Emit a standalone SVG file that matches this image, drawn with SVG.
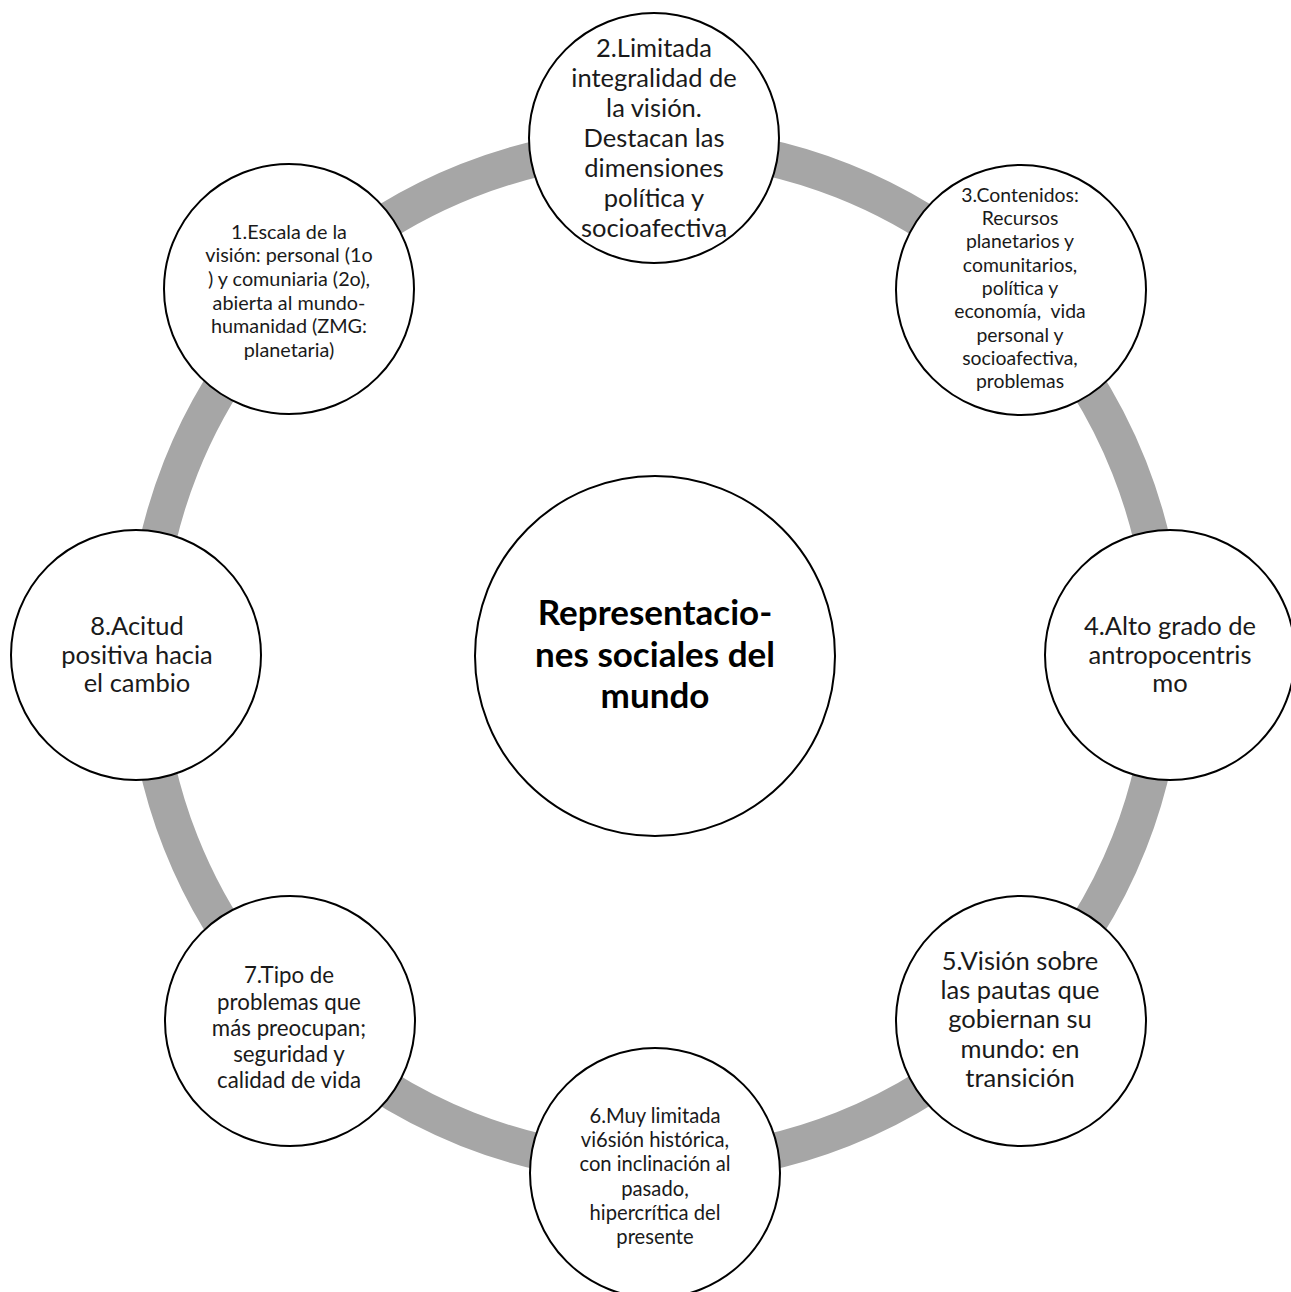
<svg xmlns="http://www.w3.org/2000/svg" width="1291" height="1292" viewBox="0 0 1291 1292">
<style>
.node{fill:#ffffff;stroke:#000000;stroke-width:2}
.t{font-family:Lato,"Liberation Sans",sans-serif;fill:#1a1a1a;text-anchor:middle;white-space:pre}
.big{font-size:25.5px}
.c7{font-size:22.3px}
.c6{font-size:20.2px}
.c1{font-size:19.8px}
.c3{font-size:19.4px}
.ctr{font-size:35px;font-weight:bold;fill:#000}
</style>
<rect x="0" y="0" width="1291" height="1292" fill="#ffffff"/>
<g id="connectors">
<circle cx="655" cy="655" r="510" fill="none" stroke="#a6a6a6" stroke-width="36"/>
</g>
<g id="center">
<circle class="node" cx="655" cy="656" r="180"/>
<text class="t ctr"><tspan x="655" y="625">Representacio-</tspan><tspan x="655" y="666.5">nes sociales del</tspan><tspan x="655" y="707.5">mundo</tspan></text>
</g>
<g id="node2">
<circle class="node" cx="654" cy="138" r="125"/>
<text class="t big"><tspan x="654" y="57">2.Limitada</tspan><tspan x="654" y="87">integralidad de</tspan><tspan x="654" y="117">la visión.</tspan><tspan x="654" y="147">Destacan las</tspan><tspan x="654" y="177">dimensiones</tspan><tspan x="654" y="207">política y</tspan><tspan x="654" y="237">socioafectiva</tspan></text>
</g>
<g id="node3">
<circle class="node" cx="1021" cy="290" r="125"/>
<text class="t c3"><tspan x="1020" y="201.7">3.Contenidos:</tspan><tspan x="1020" y="225">Recursos</tspan><tspan x="1020" y="248.3">planetarios y</tspan><tspan x="1020" y="271.6">comunitarios,</tspan><tspan x="1020" y="294.9">política y</tspan><tspan x="1020" y="318.2">economía,  vida</tspan><tspan x="1020" y="341.5">personal y</tspan><tspan x="1020" y="364.8">socioafectiva,</tspan><tspan x="1020" y="388.1">problemas</tspan></text>
</g>
<g id="node4">
<circle class="node" cx="1170" cy="655" r="125"/>
<text class="t big"><tspan x="1170" y="635">4.Alto grado de</tspan><tspan x="1170" y="663.5">antropocentris</tspan><tspan x="1170" y="692">mo</tspan></text>
</g>
<g id="node5">
<circle class="node" cx="1021" cy="1021" r="125"/>
<text class="t big"><tspan x="1020" y="970">5.Visión sobre</tspan><tspan x="1020" y="999.2">las pautas que</tspan><tspan x="1020" y="1028.4">gobiernan su</tspan><tspan x="1020" y="1057.6">mundo: en</tspan><tspan x="1020" y="1086.8">transición</tspan></text>
</g>
<g id="node6">
<circle class="node" cx="655" cy="1173" r="125"/>
<text class="t c6"><tspan x="655" y="1123">6.Muy limitada</tspan><tspan x="655" y="1147.2">vi6sión histórica,</tspan><tspan x="655" y="1171.4">con inclinación al</tspan><tspan x="655" y="1195.6">pasado,</tspan><tspan x="655" y="1219.8">hipercrítica del</tspan><tspan x="655" y="1244">presente</tspan></text>
</g>
<g id="node7">
<circle class="node" cx="290" cy="1021" r="125"/>
<text class="t c7"><tspan x="289" y="983.3">7.Tipo de</tspan><tspan x="289" y="1009.5">problemas que</tspan><tspan x="289" y="1035.8">más preocupan;</tspan><tspan x="289" y="1062">seguridad y</tspan><tspan x="289" y="1088.3">calidad de vida</tspan></text>
</g>
<g id="node8">
<circle class="node" cx="136" cy="655" r="125"/>
<text class="t big"><tspan x="137" y="635">8.Acitud</tspan><tspan x="137" y="663.5">positiva hacia</tspan><tspan x="137" y="692">el cambio</tspan></text>
</g>
<g id="node1">
<circle class="node" cx="289" cy="289" r="125"/>
<text class="t c1"><tspan x="289" y="238.5">1.Escala de la</tspan><tspan x="289" y="262.2">visión: personal (1o</tspan><tspan x="289" y="285.9">) y comuniaria (2o),</tspan><tspan x="289" y="309.6">abierta al mundo-</tspan><tspan x="289" y="333.3">humanidad (ZMG:</tspan><tspan x="289" y="357">planetaria)</tspan></text>
</g>
</svg>
